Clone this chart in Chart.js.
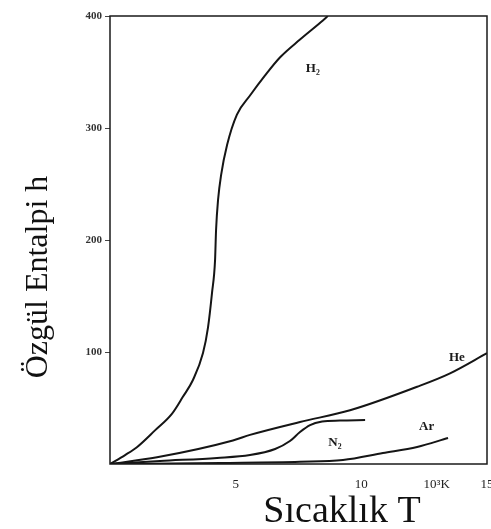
<!DOCTYPE html>
<html>
<head>
<meta charset="utf-8">
<script src="https://cdn.jsdelivr.net/npm/chart.js@4.4.1/dist/chart.umd.min.js"></script>
<style>
  html, body { margin: 0; padding: 0; background: #fff; }
  canvas { display: block; }
</style>
</head>
<body>
<canvas id="enthalpy" width="491" height="529"></canvas>
<script>
// values (T in 10^3 K, h)
var h2T = [0, 0.6, 1.07, 1.79, 2.47, 2.9, 3.3, 3.7, 3.9, 4.06, 4.18, 4.22, 4.3, 4.42, 4.66, 5.05, 5.57, 6.17, 6.76, 7.56, 8.47, 8.67];
var h2H = [0, 8, 15, 30, 45, 60, 75, 99, 122, 153, 182, 209, 236, 258, 285, 312, 329, 347, 363, 379, 396, 400];

var heT = [0, 1.87, 4.89, 5.57, 7.56, 9.55, 12.22, 13.53, 15];
var heH = [0, 6, 21, 26, 37.5, 48, 69, 81, 99];

var n2T = [0, 1.99, 4.26, 5.57, 6.57, 7.16, 7.56, 7.96, 8.44, 9.15, 10.15];
var n2H = [0, 2.7, 5.4, 8, 13.4, 20.5, 28.6, 34.8, 37.9, 38.8, 39.3];

var arT = [0, 4.4, 7.56, 9.27, 10.86, 12.22, 13.45];
var arH = [0, 1, 2, 3.6, 9.8, 15.2, 23.2];

var seriesNames = ["H\u2082", "He", "N\u2082", "Ar"];
var xTickValues = [5, 10, 13, 15];
var xTickLabels = ["5", "10", "10\u00b3K", "15"];
var yTickValues = [100, 200, 300, 400];

// where the curve names sit, in data units
var labelT = [8.07, 13.8, 8.95, 12.6];
var labelH = [353, 95, 19.5, 33];

function pts(xs, ys) {
    return xs.map(function (x, i) {
        return { x: x, y: ys[i] };
    });
}

var lineStyle = {
    borderColor: "#151515",
    borderWidth: 2,
    pointRadius: 0,
    fill: false,
    cubicInterpolationMode: "monotone"
};

var datasets = [
    pts(h2T, h2H),
    pts(heT, heH),
    pts(n2T, n2H),
    pts(arT, arH)
].map(function (d, i) {
    return Object.assign({ label: seriesNames[i], data: d }, lineStyle);
});

// box round the plot, curve names, axis titles
var decorations = {
    id: "decorations",
    afterDraw: function (chart) {
        var ctx = chart.ctx;
        var area = chart.chartArea;
        var xs = chart.scales.x;
        var ys = chart.scales.y;
        ctx.save();

        ctx.strokeStyle = "#1a1a1a";
        ctx.lineWidth = 1.5;
        ctx.strokeRect(area.left, area.top, area.right - area.left, area.bottom - area.top);

        ctx.fillStyle = "#1a1a1a";
        ctx.font = "bold 13px 'Liberation Serif', 'DejaVu Serif', serif";
        ctx.textAlign = "center";
        ctx.textBaseline = "middle";
        seriesNames.forEach(function (name, i) {
            ctx.fillText(name, xs.getPixelForValue(labelT[i]), ys.getPixelForValue(labelH[i]));
        });

        ctx.fillStyle = "#111";
        ctx.textBaseline = "alphabetic";
        ctx.font = "38px 'Liberation Serif', serif";
        ctx.fillText("S\u0131cakl\u0131k T", 342, 522);

        ctx.translate(47, 277);
        ctx.rotate(-Math.PI / 2);
        ctx.font = "32px 'Liberation Serif', serif";
        ctx.fillText("\u00d6zg\u00fcl Entalpi h", 0, 0);

        ctx.restore();
    }
};

new Chart(document.getElementById("enthalpy"), {
    type: "line",
    data: { datasets: datasets },
    plugins: [decorations],
    options: {
        responsive: false,
        animation: false,
        layout: {
            padding: { top: 16, right: 4, left: 0, bottom: 0 }
        },
        plugins: {
            legend: { display: false },
            tooltip: { enabled: false }
        },
        scales: {
            x: {
                type: "linear",
                min: 0,
                max: 15,
                border: { display: false },
                grid: { display: false },
                afterFit: function (scale) {
                    scale.height = 65;
                    // let the last label run off the edge like in the scan
                    scale.paddingLeft = 0;
                    scale.paddingRight = 0;
                },
                afterBuildTicks: function (scale) {
                    scale.ticks = xTickValues.map(function (v) {
                        return { value: v };
                    });
                },
                ticks: {
                    autoSkip: false,
                    maxRotation: 0,
                    padding: 5,
                    color: "#222",
                    font: { family: "'Liberation Serif', serif", size: 13 },
                    callback: function (value) {
                        var i = xTickValues.indexOf(value);
                        return i >= 0 ? xTickLabels[i] : "";
                    }
                }
            },
            y: {
                type: "linear",
                min: 0,
                max: 400,
                border: { display: false },
                grid: {
                    display: true,
                    drawOnChartArea: false,
                    tickLength: 5,
                    tickColor: "#444"
                },
                afterFit: function (scale) {
                    scale.width = 110;
                    scale.paddingTop = 0;
                    scale.paddingBottom = 0;
                },
                afterBuildTicks: function (scale) {
                    scale.ticks = yTickValues.map(function (v) {
                        return { value: v };
                    });
                },
                ticks: {
                    padding: 3,
                    color: "#333",
                    font: { family: "'Liberation Serif', serif", size: 11, weight: "bold" }
                }
            }
        }
    }
});
</script>
</body>
</html>
